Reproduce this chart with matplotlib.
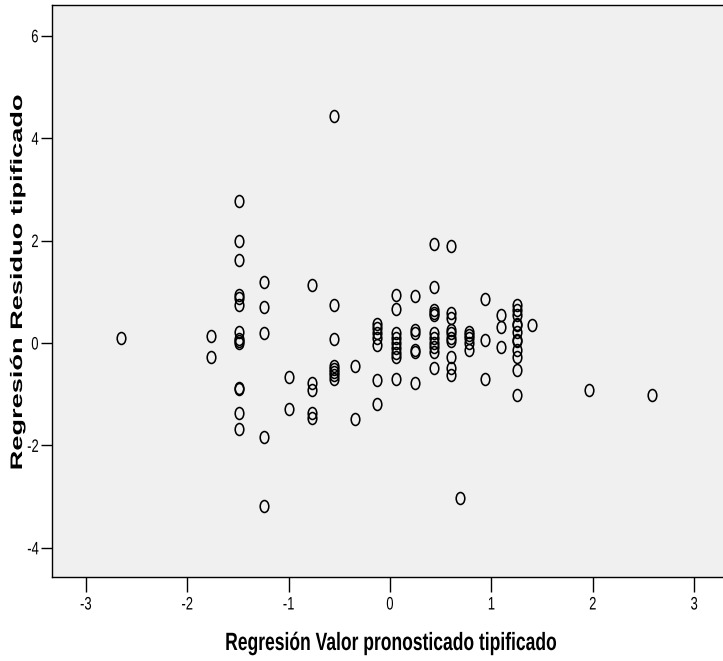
import numpy as np
import matplotlib
matplotlib.use("Agg")
import matplotlib.pyplot as plt
from matplotlib.path import Path
from matplotlib.patheffects import AbstractPathEffect
from matplotlib.transforms import Affine2D

# valores pronosticados tipificados (columnas) y residuos en cada una
pred = [-2.65, -1.76, -1.49, -1.24, -1.00, -0.77, -0.55, -0.34, -0.13, 0.06,
        0.25, 0.43, 0.60, 0.69, 0.78, 0.94, 1.10, 1.25, 1.40, 1.96, 2.58]
resid = [
    [0.09],
    [0.14, -0.28],
    [2.77, 1.99, 1.63, 0.94, 0.87, 0.74, 0.22, 0.07, 0.03, 0.0, -0.87, -0.89, -1.37, -1.67],
    [1.20, 0.71, 0.19, -1.83, -3.18],
    [-0.67, -1.28],
    [1.13, -0.79, -0.92, -1.37, -1.47],
    [4.43, 0.74, 0.08, -0.45, -0.50, -0.56, -0.62, -0.70],
    [-0.44, -1.49],
    [0.38, 0.29, 0.19, 0.09, -0.04, -0.72, -1.20],
    [0.94, 0.66, 0.19, 0.09, 0.0, -0.10, -0.20, -0.28, -0.71],
    [0.92, 0.25, 0.19, -0.14, -0.17, -0.79],
    [1.93, 1.10, 0.64, 0.58, 0.55, 0.19, 0.09, 0.0, -0.07, -0.17, -0.49],
    [1.89, 0.58, 0.48, 0.25, 0.19, 0.09, 0.03, -0.27, -0.49, -0.62],
    [-3.03],
    [0.22, 0.16, 0.09, 0.0, -0.14],
    [0.85, 0.06, -0.70],
    [0.55, 0.32, -0.07],
    [0.74, 0.64, 0.55, 0.38, 0.35, 0.22, 0.06, 0.03, -0.14, -0.27, -0.53, -1.02],
    [0.35],
    [-0.92],
    [-1.02],
]
xticks = [-3, -2, -1, 0, 1, 2, 3]
yticks = [-4, -2, 0, 2, 4, 6]

x = np.concatenate([[p] * len(r) for p, r in zip(pred, resid)])
y = np.concatenate(resid)


# la imagen original está estirada en vertical: estiro el texto a lo largo
# de su línea base para imitarlo
class Stretch(AbstractPathEffect):
    def __init__(self, sx, anchor="center"):
        super().__init__()
        self.sx = sx
        self.anchor = anchor

    def draw_path(self, renderer, gc, tpath, affine, rgbFace=None):
        ext = tpath.get_extents()
        if self.anchor == "right":
            cx = ext.x1
        else:
            cx = (ext.x0 + ext.x1) / 2
        t = Affine2D().translate(-cx, 0).scale(self.sx, 1).translate(cx, 0) + affine
        renderer.draw_path(gc, tpath, t, rgbFace)


arial = ["Liberation Sans", "DejaVu Sans"]

# circulo ovalado, como en SPSS
circ = Path.unit_circle()
oval = Path(circ.vertices * [0.72, 1.0], circ.codes)

fig = plt.figure(figsize=(7.23, 6.61), dpi=100)
ax = fig.add_axes([0.0719, 0.127, 0.93, 0.8654])
ax.set_facecolor("#f0f0f0")

ax.plot(x, y, linestyle="none", marker=oval, markersize=8.6,
        markerfacecolor="none", markeredgecolor="black", markeredgewidth=1.15)

ax.set_xlim(-3.333, 3.298)
ax.set_ylim(-4.57, 6.60)
ax.set_xticks(xticks)
ax.set_yticks(yticks)
ax.set_xticklabels([str(t) for t in xticks], family=arial, fontsize=13)
ax.set_yticklabels([str(t) for t in yticks], family=arial, fontsize=13)
ax.tick_params(axis="x", direction="out", length=11, width=1, color="black", pad=3)
ax.tick_params(axis="y", direction="out", length=8, width=1, color="black", pad=1.5)
for lbl in ax.get_xticklabels():
    lbl.set_path_effects([Stretch(0.72)])
for lbl in ax.get_yticklabels():
    lbl.set_path_effects([Stretch(0.72, anchor="right")])

for s in ax.spines.values():
    s.set_linewidth(1)
    s.set_color("black")

fig.text(391 / 723, 1 - 650 / 661, "Regresión Valor pronosticado tipificado",
         family=arial, fontweight="bold", fontsize=18, ha="center", va="baseline",
         path_effects=[Stretch(0.70)])
fig.text(17.5 / 723, 1 - 283 / 661, "Regresión Residuo tipificado",
         family=arial, fontweight="bold", fontsize=12, rotation=90,
         ha="center", va="center", path_effects=[Stretch(1.63)])

fig.savefig("out.png", dpi=100, facecolor="white")
